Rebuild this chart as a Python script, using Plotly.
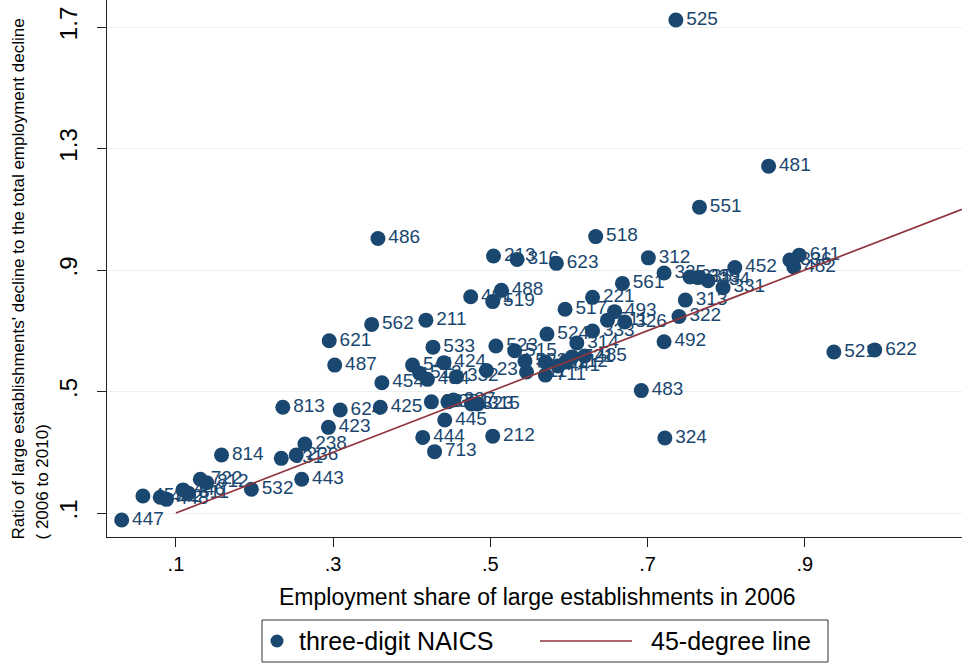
import plotly.graph_objects as go

# Three-digit NAICS industries: employment share of large establishments in 2006
# and ratio of large establishments' employment decline to total decline (2006-2010)
naics = [
    "447", "453", "442", "448", "446", "811", "722", "812", "814", "532",
    "531", "236", "238", "443", "813", "423", "624", "425", "454", "487",
    "621", "562", "211", "486", "541", "512", "484", "424", "533", "332",
    "237", "337", "321", "327", "323", "315", "522", "311", "451", "711",
    "441", "712", "721", "485", "314", "515", "523", "524", "333", "493",
    "511", "326", "517", "221", "561", "491", "488", "519", "213", "316",
    "623", "518", "312", "325", "335", "339", "334", "331", "452", "313",
    "322", "492", "483", "324", "212", "445", "444", "713", "336", "611",
    "482", "481", "551", "525", "521", "622",
]
share = [
    0.031, 0.058, 0.080, 0.088, 0.109, 0.116, 0.131, 0.139, 0.158, 0.196,
    0.234, 0.253, 0.264, 0.260, 0.236, 0.294, 0.309, 0.360, 0.362, 0.302,
    0.295, 0.349, 0.418, 0.357, 0.401, 0.410, 0.420, 0.441, 0.427, 0.457,
    0.495, 0.425, 0.446, 0.453, 0.476, 0.484, 0.544, 0.546, 0.570, 0.570,
    0.586, 0.596, 0.604, 0.620, 0.610, 0.531, 0.507, 0.572, 0.630, 0.658,
    0.649, 0.671, 0.595, 0.630, 0.668, 0.475, 0.514, 0.503, 0.504, 0.534,
    0.584, 0.634, 0.701, 0.721, 0.754, 0.764, 0.777, 0.796, 0.811, 0.748,
    0.740, 0.721, 0.692, 0.722, 0.503, 0.442, 0.414, 0.429, 0.881, 0.893,
    0.886, 0.854, 0.766, 0.736, 0.937, 0.989,
]
ratio = [
    0.077, 0.156, 0.152, 0.145, 0.176, 0.165, 0.211, 0.200, 0.291, 0.178,
    0.280, 0.291, 0.327, 0.211, 0.448, 0.382, 0.439, 0.448, 0.529, 0.587,
    0.667, 0.721, 0.735, 1.004, 0.587, 0.560, 0.540, 0.595, 0.646, 0.549,
    0.569, 0.466, 0.466, 0.472, 0.459, 0.459, 0.600, 0.564, 0.597, 0.554,
    0.584, 0.597, 0.614, 0.617, 0.660, 0.634, 0.650, 0.689, 0.699, 0.763,
    0.735, 0.729, 0.771, 0.810, 0.856, 0.812, 0.833, 0.796, 0.946, 0.935,
    0.922, 1.010, 0.940, 0.890, 0.877, 0.875, 0.865, 0.842, 0.908, 0.801,
    0.747, 0.664, 0.503, 0.347, 0.353, 0.406, 0.349, 0.302, 0.933, 0.949,
    0.910, 1.242, 1.107, 1.723, 0.630, 0.637,
]

# Reference line y = x
line_x = [0.1, 1.1]
line_y = [0.1, 1.1]

x_ticks = [0.1, 0.3, 0.5, 0.7, 0.9]
x_tick_text = [".1", ".3", ".5", ".7", ".9"]
y_ticks = [0.1, 0.5, 0.9, 1.3, 1.7]
y_tick_text = [".1", ".5", ".9", "1.3", "1.7"]

NAVY = "#1a476f"
MAROON = "#90353b"
FONT = "Liberation Sans, Arial, sans-serif"

# Plot area in pixels
L, R, T, B = 107, 6, 0, 129
W, H = 968, 666
PW, PH = W - L - R, H - T - B

fig = go.Figure()

fig.add_trace(go.Scatter(
    x=share, y=ratio, mode="markers+text",
    text=naics, textposition="middle right",
    textfont=dict(family=FONT, size=19, color=NAVY),
    marker=dict(size=15, color=NAVY, line=dict(width=0)),
    cliponaxis=False, showlegend=False, name="three-digit NAICS",
))

fig.add_trace(go.Scatter(
    x=line_x, y=line_y, mode="lines",
    line=dict(color=MAROON, width=1.7),
    cliponaxis=False, showlegend=False, name="45-degree line",
))

fig.update_layout(
    width=W, height=H,
    margin=dict(l=L, r=R, t=T, b=B),
    paper_bgcolor="white", plot_bgcolor="white",
    font=dict(family=FONT, color="black"),
    xaxis=dict(
        range=[0.0123, 1.1], tickmode="array", tickvals=x_ticks,
        ticktext=x_tick_text, ticks="outside", ticklen=9, tickcolor="#222",
        showline=True, linecolor="#222", linewidth=1, showgrid=False,
        zeroline=False, tickfont=dict(size=20, color="black"),
    ),
    yaxis=dict(
        range=[0.021, 1.789], tickmode="array", tickvals=y_ticks,
        ticktext=y_tick_text, ticks="outside", ticklen=9, tickcolor="#222",
        tickangle=-90, ticklabelstandoff=10,
        showline=True, linecolor="#222", linewidth=1,
        showgrid=True, gridcolor="#e9f1f2", gridwidth=1,
        zeroline=False, tickfont=dict(size=24, color="black"),
    ),
)


def px_x(p):
    return (p - L) / PW


def px_y(p):
    return (H - B - p) / PH


# Axis titles
fig.add_annotation(
    text="Employment share of large establishments in 2006",
    xref="paper", yref="paper", x=px_x(537), y=px_y(597),
    xanchor="center", yanchor="middle", showarrow=False,
    font=dict(family=FONT, size=23, color="black"),
)
fig.add_annotation(
    text="Ratio of large establishments' decline to the total employment decline",
    xref="paper", yref="paper", x=px_x(18), y=px_y(542),
    xanchor="center", yanchor="bottom", textangle=-90, showarrow=False,
    font=dict(family=FONT, size=17, color="black"),
)
fig.add_annotation(
    text="( 2006 to 2010)",
    xref="paper", yref="paper", x=px_x(42), y=px_y(542),
    xanchor="center", yanchor="bottom", textangle=-90, showarrow=False,
    font=dict(family=FONT, size=17, color="black"),
)

# Legend box
fig.add_shape(type="rect", xref="paper", yref="paper",
              x0=px_x(262), x1=px_x(828), y0=px_y(620), y1=px_y(662),
              line=dict(color="#333", width=1), fillcolor="white")
fig.add_shape(type="circle", xref="paper", yref="paper",
              xsizemode="pixel", ysizemode="pixel",
              xanchor=px_x(277), yanchor=px_y(641),
              x0=-6.5, x1=6.5, y0=-6.5, y1=6.5,
              line=dict(width=0), fillcolor=NAVY)
fig.add_annotation(text="three-digit NAICS", xref="paper", yref="paper",
                   x=px_x(297), y=px_y(641), xanchor="left", yanchor="middle",
                   showarrow=False, font=dict(family=FONT, size=25, color="black"))
fig.add_shape(type="line", xref="paper", yref="paper",
              x0=px_x(540), x1=px_x(632), y0=px_y(641), y1=px_y(641),
              line=dict(color=MAROON, width=1.7))
fig.add_annotation(text="45-degree line", xref="paper", yref="paper",
                   x=px_x(649), y=px_y(641), xanchor="left", yanchor="middle",
                   showarrow=False, font=dict(family=FONT, size=25, color="black"))

fig.write_html("out.html")
